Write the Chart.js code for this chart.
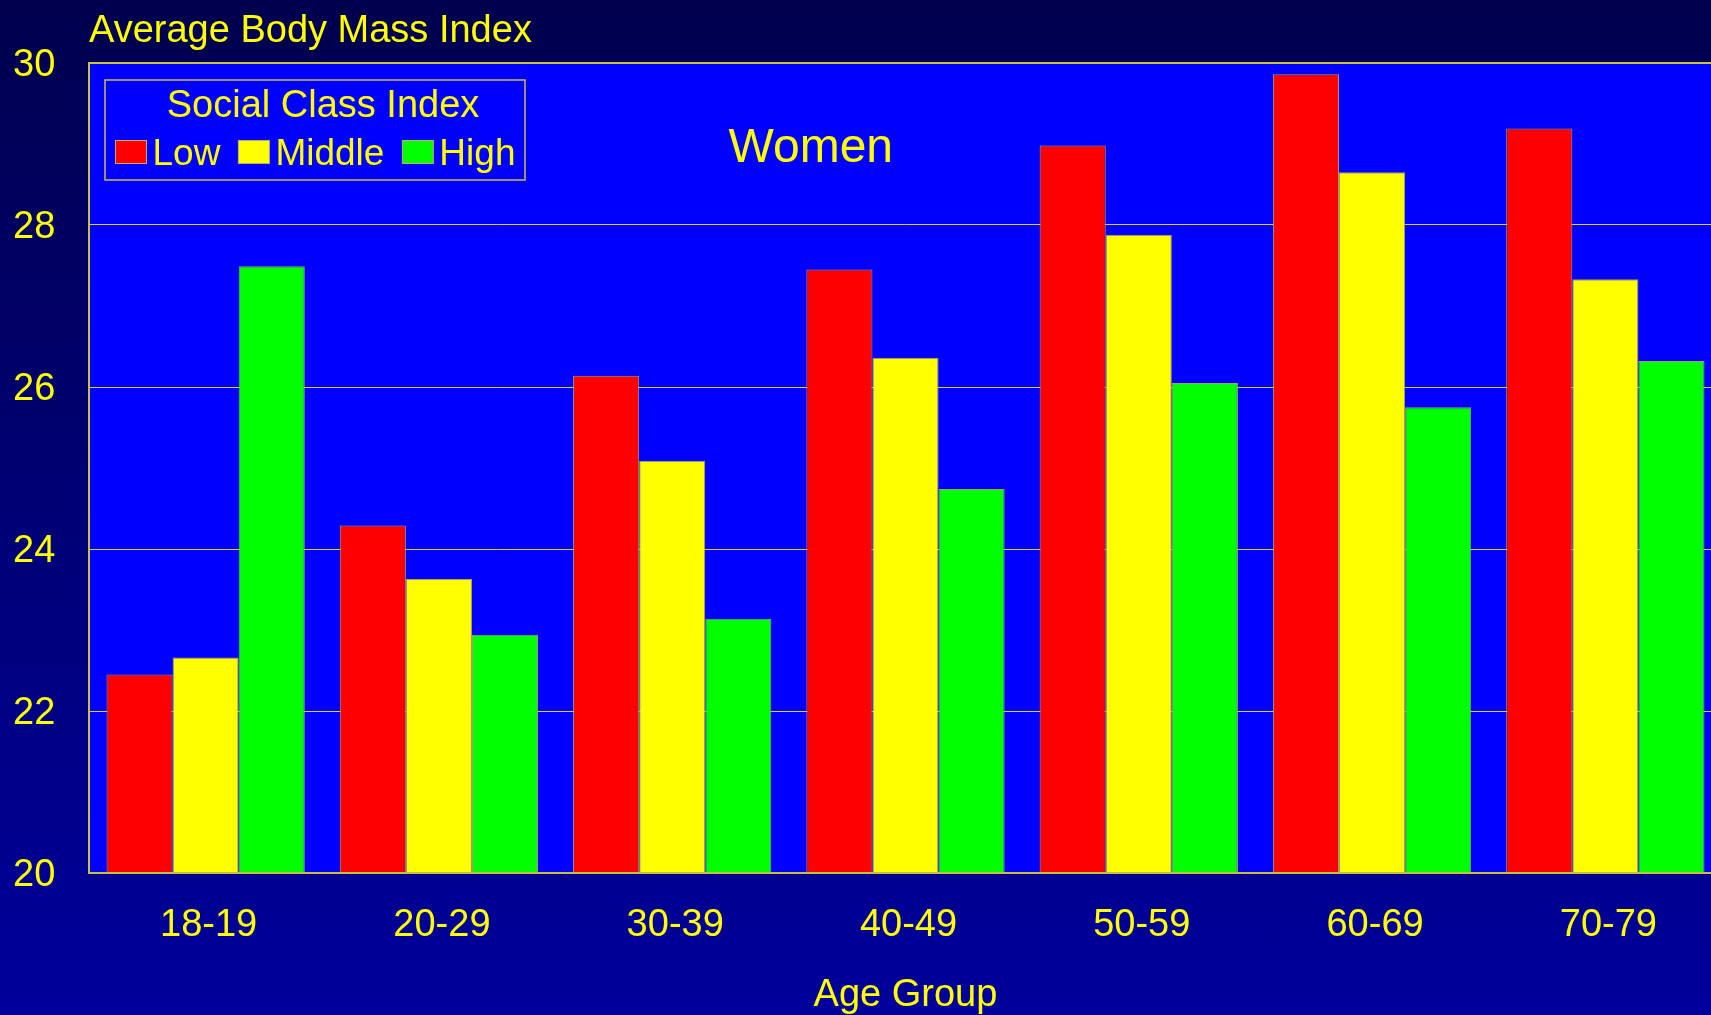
<!DOCTYPE html>
<html>
<head>
<meta charset="utf-8">
<title>Average Body Mass Index</title>
<script src="https://cdn.jsdelivr.net/npm/chart.js@4.4.0/dist/chart.umd.min.js"></script>
<style>
  html, body {
    margin: 0;
    padding: 0;
    width: 1711px;
    height: 1015px;
    overflow: hidden;
    background: linear-gradient(#00004e, #00009b);
  }
  canvas { display: block; }
</style>
</head>
<body>
<canvas id="plot1" width="1722" height="1015"></canvas>
<script>
// Datos
let gruposEdad = ['18-19', '20-29', '30-39', '40-49', '50-59', '60-69', '70-79'];
let claseBaja  = [22.45, 24.29, 26.14, 27.45, 28.98, 29.86, 29.19];
let claseMedia = [22.66, 23.63, 25.09, 26.36, 27.88, 28.65, 27.33];
let claseAlta  = [27.49, 22.94, 23.14, 24.74, 26.05, 25.75, 26.32];
let ticksY = [20, 22, 24, 26, 28, 30];

let amarillo = '#ffff00';
let fuente = 'Liberation Sans, Arial, Helvetica, sans-serif';

// Fondo azul del area del grafico
let fondoArea = {
  id: 'fondoArea',
  beforeDraw: (chart) => {
    let {ctx, chartArea} = chart;
    ctx.save();
    ctx.fillStyle = '#0000ff';
    ctx.fillRect(chartArea.left, chartArea.top, chartArea.right - chartArea.left, chartArea.bottom - chartArea.top);
    ctx.restore();
  }
};

// Borde, leyenda y texto "Women"
let leyendaPropia = {
  id: 'leyendaPropia',
  afterDatasetsDraw: (chart) => {
    let {ctx, chartArea} = chart;
    ctx.save();

    // borde del area
    ctx.strokeStyle = '#c8c040';
    ctx.lineWidth = 2;
    ctx.strokeRect(chartArea.left, chartArea.top, chartArea.right - chartArea.left, chartArea.bottom - chartArea.top);

    // caja de la leyenda
    let x0 = chartArea.left + 16;
    let y0 = chartArea.top + 17;
    ctx.lineWidth = 1.5;
    ctx.strokeStyle = '#c8c040';
    ctx.strokeRect(x0, y0, 420, 100);

    ctx.fillStyle = amarillo;
    ctx.font = '38px ' + fuente;
    ctx.textAlign = 'center';
    ctx.textBaseline = 'middle';
    ctx.fillText('Social Class Index', x0 + 218, y0 + 26.5);

    // elementos de la leyenda
    let x = x0 + 10.5;
    let yc = y0 + 72;
    ctx.font = '37px ' + fuente;
    ctx.textAlign = 'left';
    chart.data.datasets.forEach(ds => {
      ctx.fillStyle = ds.backgroundColor;
      ctx.fillRect(x, yc - 11.5, 31, 23);
      ctx.strokeStyle = '#b8b060';
      ctx.lineWidth = 1;
      ctx.strokeRect(x, yc - 11.5, 31, 23);
      x += 37;
      ctx.fillStyle = amarillo;
      ctx.fillText(ds.label, x, yc + 3);
      x += ctx.measureText(ds.label).width + 18;
    });

    // texto "Women"
    ctx.font = '48px ' + fuente;
    ctx.textAlign = 'center';
    ctx.fillText('Women', chartArea.left + 0.442 * (chartArea.right - chartArea.left), chartArea.top + 85.5);

    ctx.restore();
  }
};

let plotRef = document.getElementById('plot1');

let config = {
  type: 'bar',
  data: {
    labels: gruposEdad,
    datasets: [
      { label: 'Low', data: claseBaja, backgroundColor: '#ff0000' },
      { label: 'Middle', data: claseMedia, backgroundColor: '#ffff00' },
      { label: 'High', data: claseAlta, backgroundColor: '#00ff00' }
    ]
  },
  options: {
    responsive: false,
    animation: false,
    devicePixelRatio: 1,
    layout: { padding: { left: 13, top: 0, right: 0, bottom: 0 } },
    datasets: {
      bar: {
        categoryPercentage: 0.85,
        barPercentage: 1.0,
        borderWidth: 1,
        borderColor: '#a8a060'
      }
    },
    plugins: {
      legend: { display: false },
      tooltip: { enabled: false },
      title: {
        display: true,
        text: 'Average Body Mass Index',
        align: 'start',
        fullSize: false,
        color: amarillo,
        font: { family: fuente, size: 38, weight: 'normal' },
        padding: { top: 9, bottom: 8.4 }
      }
    },
    scales: {
      x: {
        grid: { display: false, drawTicks: false },
        border: { display: false },
        ticks: {
          color: amarillo,
          font: { family: fuente, size: 38 },
          padding: 29.5,
          labelOffset: 3,
          maxRotation: 0,
          autoSkip: false
        },
        title: {
          display: true,
          text: 'Age Group',
          color: amarillo,
          font: { family: fuente, size: 38, lineHeight: 1.0 },
          padding: { top: 0, bottom: 0 }
        },
        afterFit: (escala) => { escala.height = 142; }
      },
      y: {
        min: 20,
        max: 30,
        afterBuildTicks: (escala) => { escala.ticks = ticksY.map(v => ({ value: v })); },
        afterFit: (escala) => { escala.width = 76; },
        grid: { color: '#d8d040', lineWidth: 1, drawTicks: false },
        border: { display: false },
        ticks: {
          color: amarillo,
          font: { family: fuente, size: 38 },
          crossAlign: 'far',
          padding: 0,
          labelOffset: 3
        }
      }
    }
  },
  plugins: [fondoArea, leyendaPropia]
};

let chart1 = new Chart(plotRef, config);
</script>
</body>
</html>
